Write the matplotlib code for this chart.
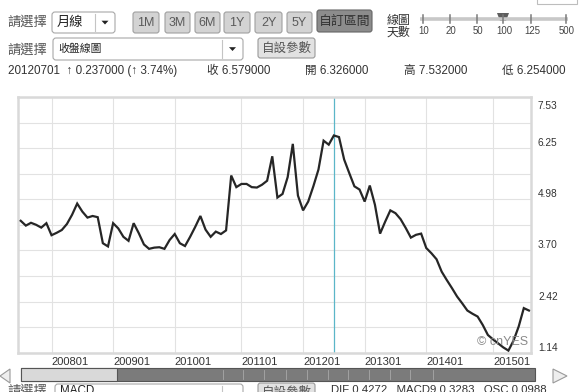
import matplotlib
matplotlib.use("Agg")
import matplotlib.pyplot as plt
from matplotlib.patches import FancyBboxPatch, Rectangle, Polygon
from matplotlib.transforms import ScaledTranslation

plt.rcParams["font.family"] = ["Liberation Sans", "Noto Sans CJK TC", "DejaVu Sans"]
CJK = ["Noto Sans CJK TC", "Liberation Sans"]

# monthly close, 2007-07 .. 2015-08 (one value per bar on the chart)
close_px = [4.44, 4.32, 4.39, 4.34, 4.27, 4.38, 4.08, 4.14, 4.21, 4.36,
            4.59, 4.87, 4.67, 4.52, 4.56, 4.53, 3.88, 3.80, 4.38, 4.25,
            4.04, 3.94, 4.38, 4.13, 3.85, 3.74, 3.77, 3.78, 3.74, 3.96,
            4.11, 3.88, 3.81, 4.04, 4.29, 4.56, 4.22, 4.04, 4.17, 4.11,
            4.20, 5.57, 5.28, 5.36, 5.36, 5.28, 5.27, 5.34, 5.44, 6.05,
            5.02, 5.11, 5.53, 6.36, 5.07, 4.70, 4.92, 5.30, 5.72, 6.44,
            6.34, 6.57, 6.53, 5.97, 5.63, 5.30, 5.22, 4.92, 5.32, 4.84,
            4.12, 4.42, 4.70, 4.63, 4.48, 4.26, 4.02, 4.09, 4.12, 3.76,
            3.63, 3.48, 3.17, 2.96, 2.76, 2.55, 2.38, 2.20, 2.12, 2.05,
            1.84, 1.59, 1.48, 1.38, 1.28, 1.20, 1.45, 1.80, 2.26, 2.20]
year_idx = [6, 18, 30, 43, 55, 67, 79, 92]
year_labels = ["200801", "200901", "201001", "201101",
               "201201", "201301", "201401", "201501"]
y_ticks = [1.14, 2.42, 3.70, 4.98, 6.25, 7.53]
y_tick_labels = ["1.14", "2.42", "3.70", "4.98", "6.25", "7.53"]
cursor_idx = 61  # 20120701

ranges = ["1M", "3M", "6M", "1Y", "2Y", "5Y"]
days = ["10", "20", "50", "100", "125", "500"]

W, H = 580, 392
fig = plt.figure(figsize=(W / 100, H / 100), dpi=100)
fig.patch.set_facecolor("white")

# ---- UI layer in pixel coordinates --------------------------------------
ui = fig.add_axes([0, 0, 1, 1], zorder=0)
ui.set_xlim(0, W); ui.set_ylim(H, 0); ui.axis("off")


def box(x0, y0, x1, y1, fc, ec="#9a9a9a", r=2.5, lw=0.8):
    ui.add_patch(FancyBboxPatch((x0, y0), x1 - x0, y1 - y0,
                                boxstyle=f"round,pad=0,rounding_size={r}",
                                fc=fc, ec=ec, lw=lw))


def arrow_down(cx, cy):
    ui.add_patch(Polygon([(cx - 3.5, cy - 1.8), (cx + 3.5, cy - 1.8), (cx, cy + 2)],
                         closed=True, fc="#222", ec="none"))


def dropdown(x0, y0, x1, y1, sep, label, fs):
    box(x0, y0, x1, y1, "white", ec="#a8a8a8", r=3)
    ui.plot([sep, sep], [y0 + 2, y1 - 2], color="#c4c4c4", lw=0.8)
    arrow_down((sep + x1) / 2, (y0 + y1) / 2)
    ui.text(x0 + 5, (y0 + y1) / 2, label, fontsize=fs, family=CJK,
            va="center", ha="left", color="#222")


# row 1
ui.text(7, 22, "請選擇", fontsize=9.5, family=CJK, va="center", color="#555")
dropdown(52, 12, 115, 33, 95, "月線", 9.5)
btn_x = [(133, 159), (165, 190), (195, 220), (224, 250), (255, 282), (287, 312)]
for (x0, x1), lab in zip(btn_x, ranges):
    box(x0, 12, x1, 33, "#d3d3d3", ec="#a0a0a0")
    ui.text((x0 + x1) / 2, 22.5, lab, fontsize=9, ha="center", va="center", color="#5a5a5a")
box(317, 10, 372, 32, "#8c8c8c", ec="#666")
ui.text(344.5, 21, "自訂區間", fontsize=9.3, family=CJK, ha="center", va="center",
        color="#333")
ui.text(387, 20, "線圖", fontsize=8.6, family=CJK, va="center", color="#333")
ui.text(387, 32, "天數", fontsize=8.6, family=CJK, va="center", color="#333")
slider_x = [423, 450, 477, 503, 531, 566]
ui.plot([420, 568], [19, 19], color="#c8c8c8", lw=2.6, solid_capstyle="butt")
for sx, lab in zip(slider_x, days):
    ui.plot([sx, sx], [15, 23], color="#7a7a7a", lw=1.1)
    ui.text(sx + 1, 30.5, lab, fontsize=6.9, ha="center", va="center", color="#444")
ui.add_patch(Polygon([(497, 13), (509, 13), (506, 21), (500, 21)], closed=True,
                     fc="#5e5e5e", ec="none"))
ui.add_patch(Rectangle((537, -10), 40, 14, fc="white", ec="#bdbdbd", lw=0.8))

# row 2
ui.text(7, 50, "請選擇", fontsize=9.5, family=CJK, va="center", color="#555")
dropdown(53, 38, 243, 60, 222, "收盤線圖", 7.8)
box(258, 38, 315, 58, "#e2e2e2", ec="#9a9a9a")
ui.text(286.5, 48, "自設參數", fontsize=9, family=CJK, ha="center", va="center",
        color="#555")

# row 3 : quote for the cursor month
quote = [(8, "20120701  ↑ 0.237000 (↑ 3.74%)"), (207, "收 6.579000"),
         (305, "開 6.326000"), (404, "高 7.532000"), (502, "低 6.254000")]
for qx, qt in quote:
    ui.text(qx, 71, qt, fontsize=8.4, va="center", color="#333",
            family=["Liberation Sans", "Noto Sans CJK TC"])

# scrollbar
ui.add_patch(Rectangle((21, 368), 514, 13, fc="#7b7b7b", ec="#555", lw=0.8))
ui.add_patch(Rectangle((21, 368), 96, 13, fc="#d9d9d9", ec="#555", lw=0.8))
for dx in [223, 243, 264, 286, 307, 328, 348, 369, 390, 410, 433]:
    ui.plot([dx, dx], [370, 379], color="#a8a8a8", lw=0.6)
ui.add_patch(Polygon([(10, 369), (10, 383), (0, 376)], closed=True,
                     fc="#eeeeee", ec="#9a9a9a", lw=0.8))
ui.add_patch(Polygon([(553, 369), (553, 383), (567, 376)], closed=True,
                     fc="#eeeeee", ec="#9a9a9a", lw=0.8))

# bottom row (cut by the frame, as in the page capture)
ui.text(7, 391.5, "請選擇", fontsize=9.5, family=CJK, va="center", color="#555")
box(55, 384, 243, 405, "white", ec="#a8a8a8", r=3)
ui.plot([222, 222], [386, 405], color="#c4c4c4", lw=0.8)
ui.text(60, 391, "MACD", fontsize=8.4, va="center", color="#222")
box(258, 383, 315, 405, "#e2e2e2", ec="#9a9a9a")
ui.text(286.5, 392.5, "自設參數", fontsize=9, family=CJK, ha="center", va="center",
        color="#555")
ui.text(331, 390, "DIF 0.4272   MACD9 0.3283   OSC 0.0988", fontsize=8.2,
        va="center", color="#333")

# ---- chart ----------------------------------------------------------------
ax = fig.add_axes([18 / W, 1 - 353 / H, (531 - 18) / W, (353 - 97) / H], zorder=2)
x = list(range(len(close_px)))
ax.plot(x, close_px, color="#262626", lw=1.6, solid_joinstyle="miter", zorder=3)
ax.axvline(cursor_idx, color="#5bb6c8", lw=0.9, zorder=2)

ax.set_xlim(-0.53, len(close_px) - 0.6)
ax.set_ylim(y_ticks[0], y_ticks[-1])
ax.set_xticks(year_idx)
ax.set_xticklabels(year_labels, ha="left", fontsize=8, color="#333")
ax.set_yticks(y_ticks)
ax.set_yticks([(a + b) / 2 for a, b in zip(y_ticks[:-1], y_ticks[1:])], minor=True)
ax.set_yticklabels(y_tick_labels, fontsize=7.3, color="#333")
ax.yaxis.tick_right()
ax.tick_params(axis="both", which="both", length=0)
ax.tick_params(axis="x", pad=3)
ax.tick_params(axis="y", pad=5)
labs = ax.get_yticklabels()
for lb in labs[:-1]:
    lb.set_va("bottom")
labs[-1].set_va("top")
labs[-1].set_transform(labs[-1].get_transform()
                       + ScaledTranslation(0, -0.04, fig.dpi_scale_trans))
ax.grid(True, which="both", color="#e2e2e2", lw=0.8, zorder=0)
for s in ax.spines.values():
    s.set_color("#d9d9d9"); s.set_linewidth(1.8)
ax.text(0.994, 0.043, "© cnYES", transform=ax.transAxes, ha="right", va="center",
        fontsize=9, color="#8a8a8a", zorder=4)

fig.savefig("out.png", dpi=100, facecolor="white")
